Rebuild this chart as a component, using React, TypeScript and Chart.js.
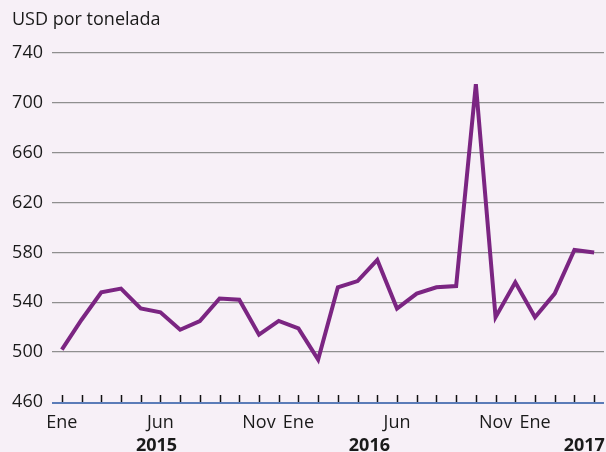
import React, { useEffect, useRef } from "react";
import { Chart, registerables } from "chart.js";

Chart.register(...registerables);

// Monthly categories Jan 2015 – Apr 2017 (only some labelled)
const monthLabels: string[] = [
  "Ene", "", "", "", "", "Jun", "", "", "", "", "Nov", "",
  "Ene", "", "", "", "", "Jun", "", "", "", "", "Nov", "",
  "Ene", "", "", "",
];

// USD per tonne
const prices: number[] = [
  502, 526, 548, 551, 535, 532, 518, 525, 543, 542, 514, 525,
  519, 494, 552, 557, 574, 535, 547, 552, 553, 715, 528, 556,
  528, 547, 582, 580,
];

const yMin = 460;
const yMax = 740;
const yStep = 40;

const years: string[] = ["2015", "2016", "2017"];
const yearPos: number[] = [4.8, 15.6, 26.5];

const title = "USD por tonelada";

const FONT = "'Open Sans', 'Noto Sans', sans-serif";
const BG = "#f7f0f7";
const TEXT = "#1a1a1a";

export default function App() {
  const ref = useRef<HTMLCanvasElement | null>(null);

  useEffect(() => {
    document.body.style.margin = "0";
    document.body.style.background = BG;
    const canvas = ref.current;
    if (!canvas) return;

    const decor = {
      id: "decor",
      beforeDraw(chart: any) {
        const { ctx, width, height } = chart;
        ctx.save();
        ctx.fillStyle = BG;
        ctx.fillRect(0, 0, width, height);
        ctx.restore();
      },
      afterDraw(chart: any) {
        const { ctx, chartArea } = chart;
        const xs = chart.scales.x;
        const bottom = chartArea.bottom;
        ctx.save();
        // axis line
        ctx.strokeStyle = "#5b7cb8";
        ctx.lineWidth = 2;
        ctx.beginPath();
        ctx.moveTo(chartArea.left, bottom + 1);
        ctx.lineTo(chartArea.right, bottom + 1);
        ctx.stroke();
        // tick marks
        ctx.strokeStyle = "#111";
        ctx.lineWidth = 1.5;
        for (let i = 0; i < monthLabels.length; i++) {
          const px = Math.round(xs.getPixelForValue(i)) + 0.5;
          ctx.beginPath();
          ctx.moveTo(px, bottom - 7);
          ctx.lineTo(px, bottom);
          ctx.stroke();
        }
        // years
        ctx.fillStyle = TEXT;
        ctx.font = `bold 18px ${FONT}`;
        ctx.textAlign = "center";
        ctx.textBaseline = "middle";
        years.forEach((y, i) => {
          ctx.fillText(y, xs.getPixelForValue(yearPos[i]), 446);
        });
        // title
        ctx.font = `18px ${FONT}`;
        ctx.textAlign = "left";
        ctx.fillText(title, 12, 20);
        ctx.restore();
      },
    };

    const chart = new Chart(canvas, {
      type: "line",
      data: {
        labels: monthLabels,
        datasets: [
          {
            data: prices,
            borderColor: "#7b2582",
            borderWidth: 4,
            pointRadius: 0,
            tension: 0,
            fill: false,
          },
        ],
      },
      options: {
        responsive: false,
        animation: false,
        layout: { padding: { top: 53, right: 2, left: 0, bottom: 0 } },
        plugins: {
          legend: { display: false },
          tooltip: { enabled: false },
        },
        scales: {
          x: {
            type: "category",
            offset: true,
            grid: { display: false },
            border: { display: false },
            ticks: {
              autoSkip: false,
              maxRotation: 0,
              minRotation: 0,
              padding: 2,
              color: TEXT,
              font: { family: FONT, size: 18 },
            },
            afterFit(scale: any) {
              scale.height = 50;
            },
          },
          y: {
            min: yMin,
            max: yMax,
            ticks: {
              stepSize: yStep,
              padding: 9,
              color: TEXT,
              font: { family: FONT, size: 18 },
            },
            grid: {
              drawTicks: false,
              color: (c: any) => (c.tick && c.tick.value === yMin ? "rgba(0,0,0,0)" : "#8f8f8f"),
              lineWidth: 1.3,
            },
            border: { display: false },
            afterFit(scale: any) {
              scale.width = 52;
            },
          },
        },
      },
      plugins: [decor],
    });

    return () => chart.destroy();
  }, []);

  return (
    <div style={{ width: 606, height: 452 }}>
      <canvas ref={ref} width={606} height={452} style={{ display: "block" }} />
    </div>
  );
}
